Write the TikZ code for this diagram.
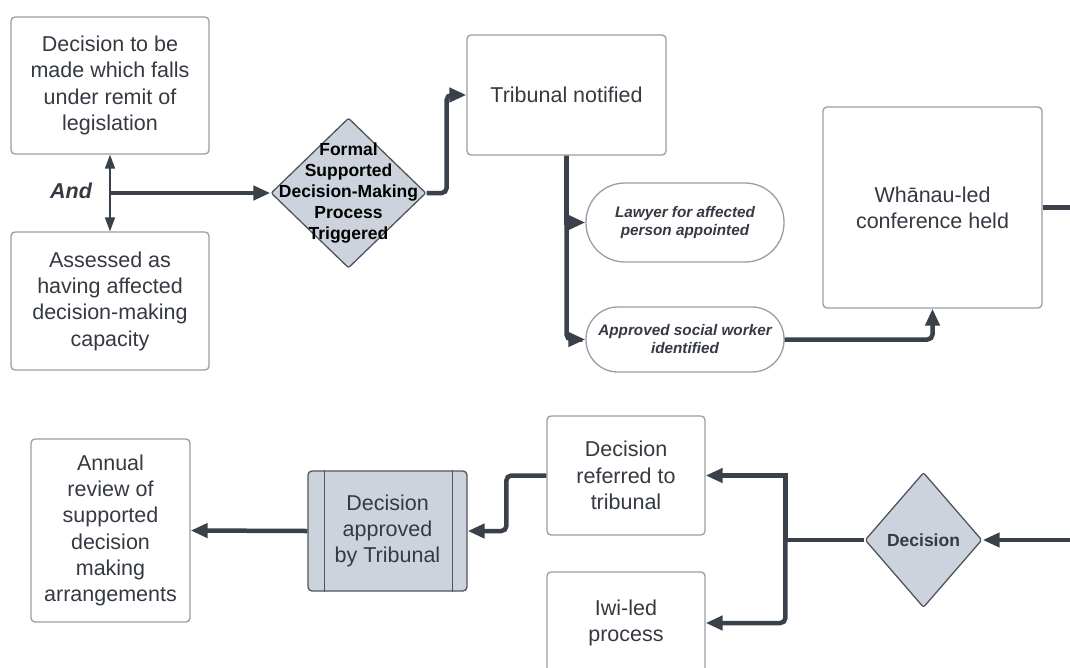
\documentclass[tikz,border=0pt]{standalone}
\usepackage{fontspec}
\setmainfont{Liberation Sans}
\usetikzlibrary{arrows.meta,shapes.geometric}

\definecolor{lineC}{HTML}{3A414A}
\definecolor{textC}{HTML}{353A42}
\definecolor{borderC}{HTML}{9A9DA2}
\definecolor{shapeC}{HTML}{CDD3DD}
\definecolor{edgeC}{HTML}{50555C}

\newcommand\boxfont{\fontsize{21.5}{26.3}\selectfont}
\newcommand\pillfont{\bfseries\itshape\fontsize{15.3}{18}\selectfont}
\newcommand\diafont{\bfseries\fontsize{17.5}{21}\selectfont}

\begin{document}
\begin{tikzpicture}[x = 1pt, y = -1pt,
  box/.style = {draw = borderC, line width = 1.3pt, rounded corners = 4pt, fill = white,
                align = center, inner sep = 0pt, text = textC, font = \boxfont},
  pill/.style = {box, rounded corners = #1, font = \pillfont},
  decide/.style = {diamond, draw = edgeC, line width = 1.3pt, rounded corners = 2pt,
                   fill = shapeC, inner sep = 0pt, text = textC, font = \diafont},
  flow/.style = {draw = lineC, line width = 4.5pt, rounded corners = 5pt,
                 -{Triangle[length = 17pt, width = 14pt]}},
  flowline/.style = {draw = lineC, line width = 4.5pt},
  thinflow/.style = {draw = lineC, line width = 1.5pt,
                     {Triangle[length = 14pt, width = 10pt]}-{Triangle[length = 14pt, width = 10pt]}}]

\fill [white] (0, 0) rectangle (1070, 667);
\useasboundingbox (0, 0) rectangle (1070, 667);

% top row
\node [box, minimum width = 198pt, minimum height = 137pt] (remit) at (110, 85.5)
  {Decision to be\\made which falls\\under remit of\\legislation};
\node [box, minimum width = 198pt, minimum height = 138pt] (capacity) at (110, 301)
  {Assessed as\\having affected\\decision-making\\capacity};
\node [decide, minimum width = 155pt, minimum height = 150pt] (trigger) at (348.5, 193) {};
\node [font = \diafont, text = black, align = center] (triggertext) at (trigger)
  {Formal\\Supported\\Decision-Making\\Process\\Triggered};
\node [box, minimum width = 199pt, minimum height = 120pt] (tribunal) at (566.5, 95)
  {Tribunal notified};
\node [pill = 39pt, minimum width = 198pt, minimum height = 79pt] (lawyer) at (685, 222.5)
  {Lawyer for affected\\person appointed};
\node [pill = 32pt, minimum width = 198pt, minimum height = 65pt] (social) at (685, 339.5)
  {Approved social worker\\identified};
\node [box, minimum width = 219pt, minimum height = 201pt] (whanau) at (932.5, 207.5)
  {Whānau-led\\conference held};

\coordinate (andpt) at (110, 193);
\node [font = \boxfont\bfseries\itshape, text = textC] (andlabel) at (71, 191) {And};

\draw [thinflow] (remit) -- (capacity);
\draw [flow] (andpt) -- (trigger.west);
\draw [flow] (trigger.east) -- ++(20, 0) |- (tribunal.west);
\draw [flow, rounded corners = 0pt] (tribunal.south) |- (lawyer.west);
\draw [flow] (tribunal.south) |- (social.west);
\draw [flow] (social.east) -| (whanau.south);
\coordinate (rightA) at (1070, 207.5);
\draw [flowline] (whanau.east) -- (rightA);

% bottom row
\node [box, minimum width = 159pt, minimum height = 183pt] (annual) at (110.5, 530.5)
  {Annual\\review of\\supported\\decision\\making\\arrangements};
\node [box, fill = shapeC, draw = edgeC, minimum width = 159pt, minimum height = 120pt] (approved)
  at (387.5, 531) {Decision\\approved\\by Tribunal};
\draw [draw = edgeC, line width = 1.3pt] ([xshift = 17pt]approved.north west) -- ([xshift = 17pt]approved.south west);
\draw [draw = edgeC, line width = 1.3pt] ([xshift = -15pt]approved.north east) -- ([xshift = -15pt]approved.south east);
\node [box, minimum width = 158pt, minimum height = 119pt] (referred) at (626, 475.5)
  {Decision\\referred to\\tribunal};
\node [box, minimum width = 158pt, minimum height = 102pt] (iwi) at (626, 623)
  {Iwi-led\\process};
\node [decide, minimum width = 117pt, minimum height = 135pt] (outcome) at (923.5, 540) {Decision};

\coordinate (rightB) at (1070, 540);
\draw [flow] (rightB) -- (outcome.east);
\draw [flowline] (outcome.west) -- ++(-79, 0) coordinate (split);
\draw [flow, rounded corners = 0pt] (split) |- (referred.east);
\draw [flow] (split) |- (iwi.east);
\draw [flow] (referred.west) -- ++(-40, 0) |- (approved.east);
\draw [flow] (approved.west) -- (annual.east);
\end{tikzpicture}
\end{document}
